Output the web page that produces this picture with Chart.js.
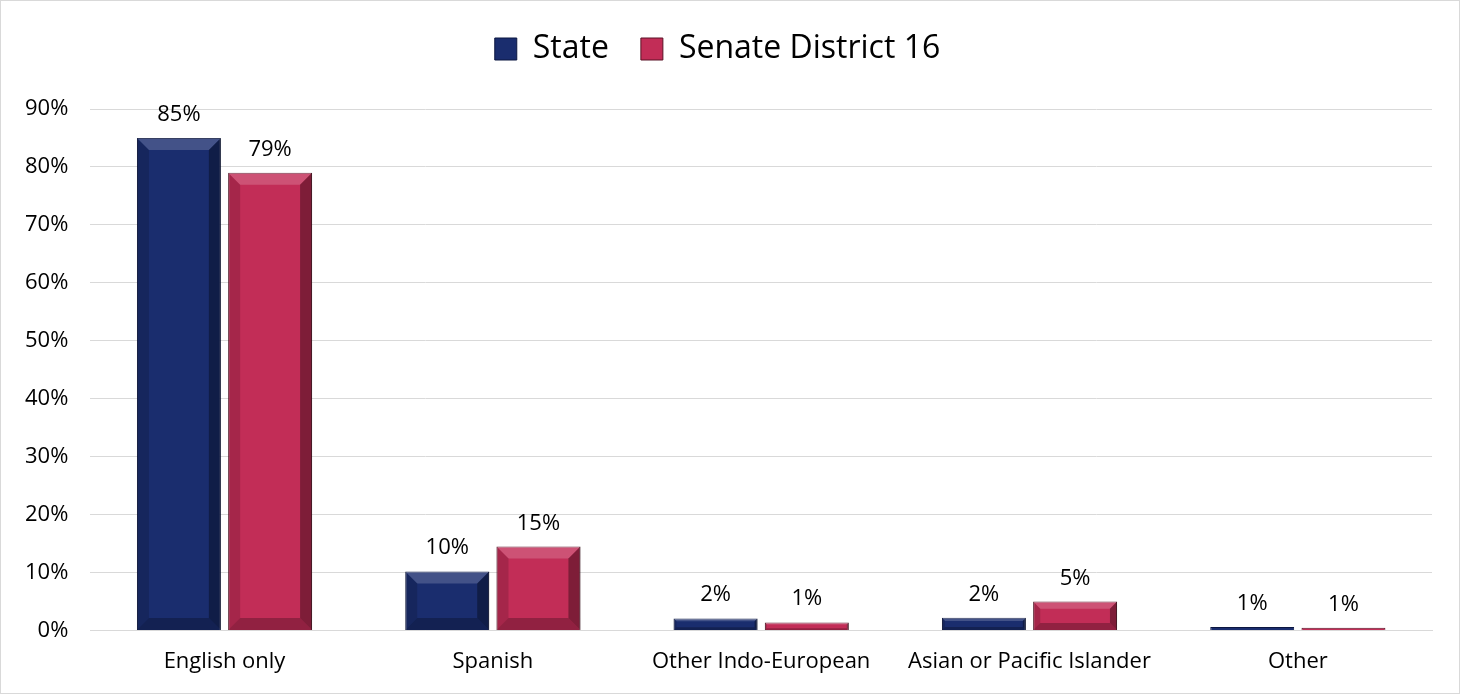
<!DOCTYPE html>
<html>
<head>
<meta charset="utf-8">
<script src="https://cdn.jsdelivr.net/npm/chart.js@4/dist/chart.umd.min.js"></script>
<style>
  html, body { margin: 0; padding: 0; background: #fff; }
  #wrap { position: relative; width: 1458px; height: 692px; border: 1px solid #d9d9d9; }
</style>
</head>
<body>
<div id="wrap"><canvas id="chart"></canvas></div>
<script>
// Chart data
const categories = ["English only", "Spanish", "Other Indo-European", "Asian or Pacific Islander", "Other"];
const stateValues = [85, 10.2, 2.1, 2.2, 0.6];
const districtValues = [79, 14.5, 1.4, 5.0, 0.5];
const yTicks = [0, 10, 20, 30, 40, 50, 60, 70, 80, 90];

const FONT = "'Open Sans', 'Liberation Sans', sans-serif";

// soft 3D look on the bars, like the Excel bevel
const bevelPlugin = {
  id: "bevel",
  afterDatasetsDraw(chart) {
    const ctx = chart.ctx;
    chart.data.datasets.forEach((ds, i) => {
      chart.getDatasetMeta(i).data.forEach((bar) => {
        const left = bar.x - bar.width / 2;
        const right = bar.x + bar.width / 2;
        const top = bar.y;
        const bottom = bar.base;
        const h = bottom - top;
        if (h < 6) return;
        const b = Math.min(12, h / 4);
        ctx.save();
        // top bevel highlight
        ctx.fillStyle = "rgba(255,255,255,0.18)";
        ctx.beginPath();
        ctx.moveTo(left, top);
        ctx.lineTo(right, top);
        ctx.lineTo(right - b, top + b);
        ctx.lineTo(left + b, top + b);
        ctx.closePath();
        ctx.fill();
        // bottom bevel shadow
        ctx.fillStyle = "rgba(0,0,0,0.25)";
        ctx.beginPath();
        ctx.moveTo(left, bottom);
        ctx.lineTo(right, bottom);
        ctx.lineTo(right - b, bottom - b);
        ctx.lineTo(left + b, bottom - b);
        ctx.closePath();
        ctx.fill();
        // side edges
        ctx.fillStyle = "rgba(0,0,0,0.15)";
        ctx.beginPath();
        ctx.moveTo(left, top);
        ctx.lineTo(left + b, top + b);
        ctx.lineTo(left + b, bottom - b);
        ctx.lineTo(left, bottom);
        ctx.closePath();
        ctx.fill();
        ctx.fillStyle = "rgba(0,0,0,0.35)";
        ctx.beginPath();
        ctx.moveTo(right, top);
        ctx.lineTo(right - b, top + b);
        ctx.lineTo(right - b, bottom - b);
        ctx.lineTo(right, bottom);
        ctx.closePath();
        ctx.fill();
        ctx.restore();
      });
    });
  },
};

// value labels above each bar
const valueLabels = {
  id: "valueLabels",
  afterDatasetsDraw(chart) {
    const ctx = chart.ctx;
    ctx.save();
    ctx.font = "22px " + FONT;
    ctx.fillStyle = "#000";
    ctx.textAlign = "center";
    ctx.textBaseline = "alphabetic";
    chart.data.datasets.forEach((ds, i) => {
      chart.getDatasetMeta(i).data.forEach((bar, j) => {
        ctx.fillText(Math.round(ds.data[j]) + "%", bar.x, bar.y - 17);
      });
    });
    ctx.restore();
  },
};

// extra room between legend and plot
const legendGap = {
  id: "legendGap",
  beforeInit(chart) {
    const fit = chart.legend.fit;
    chart.legend.fit = function () {
      fit.bind(chart.legend)();
      this.height += 34;
    };
  },
};

new Chart(document.getElementById("chart"), {
  type: "bar",
  data: {
    labels: categories,
    datasets: [
      {
        label: "State",
        data: stateValues,
        backgroundColor: "#1a2d6e",
        borderColor: "#0b1640",
        borderWidth: 1,
      },
      {
        label: "Senate District 16",
        data: districtValues,
        backgroundColor: "#c22d57",
        borderColor: "#5a1326",
        borderWidth: 1,
      },
    ],
  },
  options: {
    responsive: true,
    maintainAspectRatio: false,
    animation: false,
    categoryPercentage: 0.68,
    barPercentage: 0.92,
    layout: { padding: { left: 2, right: 27, top: 0, bottom: 8 } },
    plugins: {
      legend: {
        position: "top",
        labels: {
          font: { family: FONT, size: 32 },
          color: "#000",
          boxWidth: 22,
          boxHeight: 22,
          padding: 32,
        },
      },
      tooltip: { enabled: false },
    },
    scales: {
      x: {
        grid: { display: false },
        border: { color: "#d9d9d9" },
        ticks: { font: { family: FONT, size: 22 }, color: "#000", padding: 10 },
      },
      y: {
        min: 0,
        max: 90,
        afterBuildTicks: (axis) => {
          axis.ticks = yTicks.map((v) => ({ value: v }));
        },
        grid: { color: "#d9d9d9", drawTicks: false },
        border: { display: false },
        ticks: {
          font: { family: FONT, size: 22 },
          color: "#000",
          padding: 22,
          callback: (v) => v + "%",
        },
      },
    },
  },
  plugins: [legendGap, bevelPlugin, valueLabels],
});
</script>
</body>
</html>
